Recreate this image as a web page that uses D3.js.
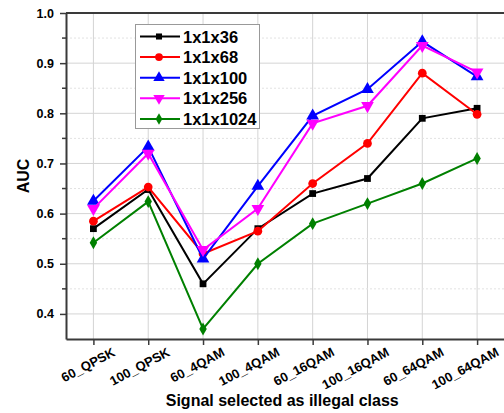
<!doctype html>
<html>
<head>
<meta charset="UTF-8">
<title>AUC by illegal class</title>
<script src="https://d3js.org/d3.v7.min.js"></script>
<style>
  body { margin: 0; background: #fff; }
  svg { display: block; font-family: Arial, "Liberation Sans", sans-serif; }
</style>
</head>
<body>
<svg id="chart" width="504" height="413"></svg>
<script>
var categories = ["60_QPSK", "100_QPSK", "60_4QAM", "100_4QAM", "60_16QAM", "100_16QAM", "60_64QAM", "100_64QAM"];
var seriesNames = ["1x1x36", "1x1x68", "1x1x100", "1x1x256", "1x1x1024"];
var auc36   = [0.570, 0.648, 0.460, 0.570, 0.640, 0.670, 0.790, 0.810];
var auc68   = [0.585, 0.653, 0.520, 0.565, 0.660, 0.740, 0.880, 0.798];
var auc100  = [0.625, 0.733, 0.510, 0.655, 0.795, 0.848, 0.943, 0.873];
var auc256  = [0.610, 0.720, 0.528, 0.610, 0.780, 0.815, 0.935, 0.882];
var auc1024 = [0.542, 0.624, 0.370, 0.500, 0.580, 0.620, 0.660, 0.710];
var yTicks = [0.4, 0.5, 0.6, 0.7, 0.8, 0.9, 1.0];
var yMinor = [0.45, 0.55, 0.65, 0.75, 0.85, 0.95];

var seriesValues = [auc36, auc68, auc100, auc256, auc1024];
var colors = ["#000000", "#ff0000", "#0000ff", "#ff00ff", "#008000"];
var shapes = [d3.symbolSquare, d3.symbolCircle, d3.symbolTriangle, d3.symbolTriangle, d3.symbolDiamond];
var sizes = [46, 60, 70, 70, 48];
var rotations = [0, 0, 0, 180, 0];

var pLeft = 66, pRight = 504.5, pTop = 13, pBottom = 339;
var svg = d3.select("#chart");

var x = d3.scalePoint().domain(categories).range([pLeft, pRight]).padding(0.5);
var y = d3.scaleLinear().domain([0.35, 1.0]).range([pBottom, pTop]);

// grid
var grid = svg.append("g");
grid.selectAll(".vg").data(categories).enter().append("line")
    .attr("x1", function(d) { return x(d); }).attr("x2", function(d) { return x(d); })
    .attr("y1", pTop).attr("y2", pBottom)
    .attr("stroke", "#d4d4d4").attr("stroke-width", 1);
grid.selectAll(".hg").data(yTicks.slice(0, -1)).enter().append("line")
    .attr("x1", pLeft).attr("x2", pRight)
    .attr("y1", function(d) { return y(d); }).attr("y2", function(d) { return y(d); })
    .attr("stroke", "#d4d4d4").attr("stroke-width", 1);
grid.selectAll(".hm").data(yMinor).enter().append("line")
    .attr("x1", pLeft).attr("x2", pRight)
    .attr("y1", function(d) { return y(d); }).attr("y2", function(d) { return y(d); })
    .attr("stroke", "#e2e2e2").attr("stroke-width", 1).attr("stroke-dasharray", "2,2");

// top frame
svg.append("line").attr("x1", pLeft).attr("x2", pRight).attr("y1", pTop).attr("y2", pTop)
    .attr("stroke", "#3a3a3a").attr("stroke-width", 2);

// y axis
var yAxis = svg.append("g").attr("transform", "translate(" + pLeft + ",0)")
    .call(d3.axisLeft(y).tickValues(yTicks).tickFormat(d3.format(".1f")).tickSize(6).tickSizeOuter(0));
yAxis.select(".domain").attr("stroke", "#3a3a3a").attr("stroke-width", 2);
yAxis.selectAll(".tick line").attr("stroke", "#3a3a3a").attr("stroke-width", 1.5);
yAxis.selectAll(".tick text").attr("font-size", 12.5).attr("font-weight", "bold")
    .attr("font-family", "Arial, 'Liberation Sans', sans-serif").attr("fill", "#000").attr("x", -12);
svg.append("g").selectAll("line").data(yMinor).enter().append("line")
    .attr("x1", pLeft - 4).attr("x2", pLeft)
    .attr("y1", function(d) { return y(d); }).attr("y2", function(d) { return y(d); })
    .attr("stroke", "#3a3a3a").attr("stroke-width", 1.5);

// x axis
var xAxis = svg.append("g").attr("transform", "translate(0," + pBottom + ")")
    .call(d3.axisBottom(x).tickSize(6).tickSizeOuter(0));
xAxis.select(".domain").attr("stroke", "#3a3a3a").attr("stroke-width", 2);
xAxis.selectAll(".tick line").attr("stroke", "#3a3a3a").attr("stroke-width", 1.5);
xAxis.selectAll(".tick text").attr("font-size", 13).attr("font-weight", "bold")
    .attr("font-family", "Arial, 'Liberation Sans', sans-serif").attr("fill", "#000")
    .attr("text-anchor", "end").attr("dy", "0.35em").attr("y", 0)
    .attr("transform", "translate(20,12) rotate(-28)");

// axis titles
svg.append("text").attr("x", (pLeft + pRight) / 2 - 3).attr("y", 406)
    .attr("text-anchor", "middle").attr("font-size", 16).attr("font-weight", "bold")
    .text("Signal selected as illegal class");
svg.append("text").attr("transform", "translate(29," + ((pTop + pBottom) / 2) + ") rotate(-90)")
    .attr("text-anchor", "middle").attr("font-size", 16).attr("font-weight", "bold")
    .text("AUC");

// series
var line = d3.line().x(function(d, i) { return x(categories[i]); }).y(function(d) { return y(d); });
seriesValues.forEach(function(vals, s) {
    var g = svg.append("g");
    g.append("path").attr("d", line(vals)).attr("fill", "none")
        .attr("stroke", colors[s]).attr("stroke-width", 2);
    g.selectAll("path.m").data(vals).enter().append("path").attr("class", "m")
        .attr("d", d3.symbol().type(shapes[s]).size(sizes[s]))
        .attr("transform", function(d, i) {
            return "translate(" + x(categories[i]) + "," + y(d) + ") rotate(" + rotations[s] + ")";
        })
        .attr("fill", colors[s]);
});

// legend
var legend = svg.append("g");
legend.append("rect").attr("x", 135.5).attr("y", 24.5).attr("width", 124).attr("height", 104)
    .attr("fill", "#fff").attr("stroke", "#999").attr("stroke-width", 1);
seriesNames.forEach(function(name, s) {
    var ly = 36.5 + s * 20.6;
    legend.append("line").attr("x1", 140).attr("x2", 180).attr("y1", ly).attr("y2", ly)
        .attr("stroke", colors[s]).attr("stroke-width", 2);
    legend.append("path").attr("d", d3.symbol().type(shapes[s]).size(sizes[s] * 0.8))
        .attr("transform", "translate(159," + ly + ") rotate(" + rotations[s] + ")")
        .attr("fill", colors[s]);
    legend.append("text").attr("x", 183).attr("y", ly + 6).attr("font-size", 16.5)
        .attr("font-weight", "bold").text(name);
});
</script>
</body>
</html>
